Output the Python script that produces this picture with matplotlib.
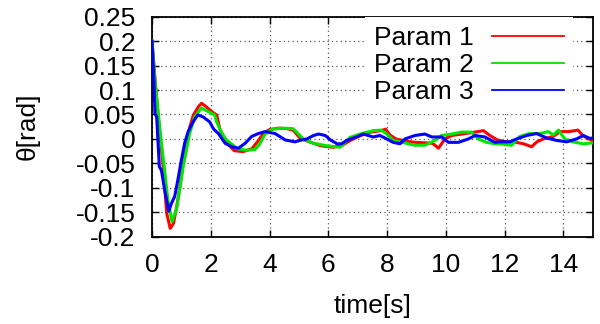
import matplotlib
matplotlib.use("Agg")
import matplotlib.pyplot as plt
from matplotlib.ticker import FixedLocator, FixedFormatter

# ---- data ----
red_t = [0.0, 0.1, 0.2, 0.27, 0.38, 0.5, 0.62, 0.73, 0.84, 0.95, 1.07, 1.18, 1.29, 1.41, 1.58, 1.69,
         1.86, 2.03, 2.2, 2.31, 2.5, 2.8, 3.1, 3.4, 3.6, 3.8, 4.0, 4.3, 4.6, 4.8, 5.05, 5.4, 5.75,
         6.15, 6.45, 6.75, 7.1, 7.45, 7.8, 7.95, 8.1, 8.3, 8.6, 8.95, 9.3, 9.55, 9.75, 9.97, 10.2,
         10.55, 11.0, 11.28, 11.5, 11.75, 12.05, 12.4, 12.65, 12.92, 13.1, 13.32, 13.66, 13.88,
         14.2, 14.5, 14.68, 15.0]
red_v = [0.200, 0.125, 0.055, 0.011, -0.057, -0.152, -0.183, -0.173, -0.139, -0.098, -0.043, -0.002,
         0.025, 0.049, 0.066, 0.073, 0.065, 0.056, 0.049, 0.020, -0.005, -0.024, -0.026, -0.020,
         -0.005, 0.012, 0.019, 0.022, 0.021, 0.018, 0.001, -0.007, -0.014, -0.017, -0.014, -0.003,
         0.007, 0.014, 0.017, 0.020, 0.008, 0.000, -0.004, -0.007, -0.008, -0.009, -0.019, 0.000,
         0.007, 0.010, 0.014, 0.017, 0.007, -0.002, -0.006, -0.007, -0.010, -0.016, -0.006, 0.000,
         0.005, 0.015, 0.015, 0.018, 0.006, -0.004]

green_t = [0.0, 0.09, 0.2, 0.32, 0.43, 0.54, 0.68, 0.83, 0.94, 1.06, 1.17, 1.28, 1.45, 1.68, 1.91,
           2.13, 2.2, 2.35, 2.5, 2.9, 3.2, 3.5, 3.65, 3.85, 4.1, 4.45, 4.8, 5.15, 5.5, 5.95, 6.4,
           6.74, 7.08, 7.53, 7.8, 7.99, 8.21, 8.6, 8.95, 9.29, 9.63, 9.86, 10.2, 10.54, 10.88, 11.1,
           11.39, 11.67, 11.84, 12.24, 12.52, 12.86, 13.2, 13.49, 13.66, 13.83, 14.05, 14.33, 14.68,
           15.0]
green_v = [0.200, 0.127, 0.059, -0.009, -0.064, -0.125, -0.169, -0.145, -0.104, -0.057, -0.023,
           0.011, 0.045, 0.063, 0.056, 0.049, 0.035, 0.015, 0.000, -0.020, -0.023, -0.022, -0.012,
           0.010, 0.020, 0.022, 0.021, 0.000, -0.009, -0.014, -0.017, 0.003, 0.010, 0.017, 0.018,
           0.010, -0.003, -0.008, -0.013, -0.013, -0.003, 0.007, 0.010, 0.014, 0.014, 0.000, -0.007,
           -0.010, -0.010, -0.013, 0.005, 0.011, 0.011, 0.015, 0.008, 0.018, 0.000, -0.006, -0.010,
           -0.008]

blue_t = [0.0, 0.07, 0.1, 0.16, 0.25, 0.32, 0.43, 0.57, 0.66, 0.77, 0.88, 1.0, 1.11, 1.23, 1.4,
          1.56, 1.74, 1.96, 2.1, 2.26, 2.49, 2.71, 2.94, 3.17, 3.39, 3.62, 3.85, 4.19, 4.53, 4.87,
          5.04, 5.27, 5.5, 5.67, 5.9, 6.07, 6.3, 6.45, 6.63, 6.91, 7.2, 7.36, 7.53, 7.76, 7.99, 8.21,
          8.44, 8.61, 8.95, 9.29, 9.52, 9.86, 10.09, 10.43, 10.77, 11.0, 11.33, 11.67, 11.84, 12.18,
          12.41, 12.75, 13.09, 13.43, 13.77, 14.11, 14.45, 14.68, 14.91, 15.0]
blue_v = [0.200, 0.114, 0.052, 0.045, -0.057, -0.064, -0.104, -0.148, -0.132, -0.118, -0.084,
          -0.043, -0.009, 0.015, 0.035, 0.049, 0.045, 0.035, 0.020, 0.011, -0.009, -0.016, -0.019,
          -0.009, 0.005, 0.011, 0.015, 0.011, -0.002, -0.006, -0.003, 0.000, 0.007, 0.010, 0.007,
          -0.002, -0.010, -0.010, -0.003, 0.003, 0.010, 0.007, 0.004, 0.007, 0.000, -0.007, -0.010,
          0.000, 0.007, 0.010, 0.004, 0.004, -0.007, -0.007, 0.000, 0.007, 0.004, -0.007, -0.006,
          -0.006, 0.000, 0.007, 0.011, 0.002, -0.003, -0.006, 0.000, 0.007, 0.001, 0.002]

series_labels = ["Param 1", "Param 2", "Param 3"]
x_ticks = [0, 2, 4, 6, 8, 10, 12, 14]
y_ticks = [-0.2, -0.15, -0.1, -0.05, 0, 0.05, 0.1, 0.15, 0.2, 0.25]
y_tick_labels = ["-0.2", "-0.15", "-0.1", "-0.05", "0", "0.05", "0.1", "0.15", "0.2", "0.25"]

# ---- figure ----
plt.rcParams['font.family'] = ['Liberation Sans', 'DejaVu Sans']
FS = 19
fig = plt.figure(figsize=(6.0, 3.24), dpi=100)
ax = fig.add_axes([152/600, 1 - 236.7/324, 440.7/600, 220/324])

colors = ["#ff0000", "#00e600", "#0000ff"]
for (t, v), c, lab in zip([(red_t, red_v), (green_t, green_v), (blue_t, blue_v)], colors, series_labels):
    ax.plot(t, v, color=c, lw=2.2, label=lab, zorder=3)

ax.set_xlim(0, 15)
ax.set_ylim(-0.2, 0.25)
ax.xaxis.set_major_locator(FixedLocator(x_ticks))
ax.set_xticklabels([str(x) for x in x_ticks])
ax.yaxis.set_major_locator(FixedLocator(y_ticks))
ax.yaxis.set_major_formatter(FixedFormatter(y_tick_labels))
ax.tick_params(axis='both', which='major', direction='in', length=5, width=1.0,
               top=True, right=True, labelsize=FS, colors='black')
ax.tick_params(axis='x', pad=12)
ax.tick_params(axis='y', pad=12)
for s in ax.spines.values():
    s.set_linewidth(1.3)
    s.set_color('black')

ax.grid(True, color='0.35', linestyle=(0, (1, 2.5)), linewidth=0.9, zorder=1)
ax.set_axisbelow(True)

ax.set_xlabel("time[s]", fontsize=FS, labelpad=12)
ax.set_ylabel("θ[rad]", fontsize=FS)
ax.yaxis.set_label_coords(-0.254, 0.5)

leg = ax.legend(loc='upper right', bbox_to_anchor=(0.955, 1.0), borderaxespad=0.0,
                markerfirst=False, fontsize=FS, frameon=True, fancybox=False,
                handlelength=2.7, handletextpad=0.7, labelspacing=0.12, borderpad=0.35)
leg.get_frame().set_facecolor('white')
leg.get_frame().set_edgecolor('none')
leg.get_frame().set_alpha(1.0)
for line in leg.get_lines():
    line.set_linewidth(1.3)

fig.savefig("out.png", dpi=100)
